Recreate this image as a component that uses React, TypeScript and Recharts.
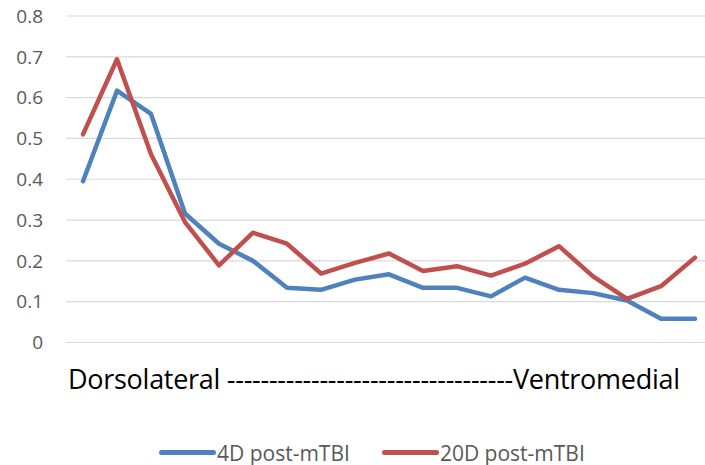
import { LineChart, Line, XAxis, YAxis, CartesianGrid, Legend } from "recharts";

// 19 sampling positions, dorsolateral -> ventromedial
const positions = [1, 2, 3, 4, 5, 6, 7, 8, 9, 10, 11, 12, 13, 14, 15, 16, 17, 18, 19];
const day4 = [0.395, 0.617, 0.56, 0.316, 0.242, 0.2, 0.134, 0.129, 0.154, 0.167, 0.134, 0.134, 0.113, 0.159, 0.129, 0.121, 0.103, 0.058, 0.058];
const day20 = [0.51, 0.694, 0.461, 0.295, 0.189, 0.269, 0.242, 0.169, 0.195, 0.218, 0.175, 0.187, 0.164, 0.193, 0.236, 0.162, 0.107, 0.138, 0.208];
const yTicks = [0, 0.1, 0.2, 0.3, 0.4, 0.5, 0.6, 0.7, 0.8];
const seriesNames = ["4D post-mTBI", "20D post-mTBI"];
const axisCaption = "Dorsolateral " + "-".repeat(34) + "Ventromedial";

const BLUE = "#4F81BD";
const RED = "#C0504D";
const FONT = "'Open Sans', sans-serif";

const data = positions.map((p, i) => ({ pos: p, d4: day4[i], d20: day20[i] }));

function AxisCaption(props: any) {
  const vb = props.viewBox || { x: 66, y: 342 };
  return (
    <text
      x={vb.x + 2}
      y={vb.y + 46.5}
      fontFamily={FONT}
      fontSize={27}
      fill="#000000"
      textLength={612}
      lengthAdjust="spacing"
    >
      {axisCaption}
    </text>
  );
}

function LegendContent() {
  const items = [
    { name: seriesNames[0], color: BLUE },
    { name: seriesNames[1], color: RED },
  ];
  return (
    <div
      style={{
        display: "flex",
        justifyContent: "flex-start",
        alignItems: "center",
        paddingLeft: 159,
        height: 25,
        fontFamily: FONT,
        fontSize: 21,
        color: "#595959",
      }}
    >
      {items.map((it, i) => (
        <div key={it.name} style={{ display: "flex", alignItems: "center", marginLeft: i ? 32 : 0 }}>
          <span
            style={{
              display: "inline-block",
              width: 57,
              height: 5,
              borderRadius: 3,
              background: it.color,
              marginRight: 1,
            }}
          />
          <span>{it.name}</span>
        </div>
      ))}
    </div>
  );
}

export default function App() {
  return (
    <div style={{ position: "absolute", left: 0, top: 0, width: 705, height: 465, overflow: "hidden", background: "#fff" }}>
      <LineChart width={712} height={465} data={data} margin={{ top: 16, right: 0, bottom: 0, left: 0 }}>
        <CartesianGrid vertical={false} stroke="#D9D9D9" strokeWidth={1.2} />
        <XAxis
          dataKey="pos"
          tick={false}
          axisLine={false}
          tickLine={false}
          height={97.5}
          padding={{ left: 17, right: 17 }}
          label={<AxisCaption />}
        />
        <YAxis
          domain={[0, 0.8]}
          ticks={yTicks}
          width={66}
          axisLine={false}
          tickLine={false}
          tickSize={0}
          tickMargin={23}
          tickFormatter={(v: number) => (v === 0 ? "0" : v.toFixed(1))}
          tick={{ fontSize: 19, fill: "#595959", fontFamily: FONT }}
        />
        <Legend
          verticalAlign="bottom"
          content={<LegendContent />}
          wrapperStyle={{ left: 0, width: 705 }}
        />
        <Line
          type="linear"
          dataKey="d4"
          name={seriesNames[0]}
          stroke={BLUE}
          strokeWidth={4.5}
          strokeLinecap="round"
          strokeLinejoin="round"
          dot={false}
          isAnimationActive={false}
        />
        <Line
          type="linear"
          dataKey="d20"
          name={seriesNames[1]}
          stroke={RED}
          strokeWidth={4.5}
          strokeLinecap="round"
          strokeLinejoin="round"
          dot={false}
          isAnimationActive={false}
        />
      </LineChart>
    </div>
  );
}
